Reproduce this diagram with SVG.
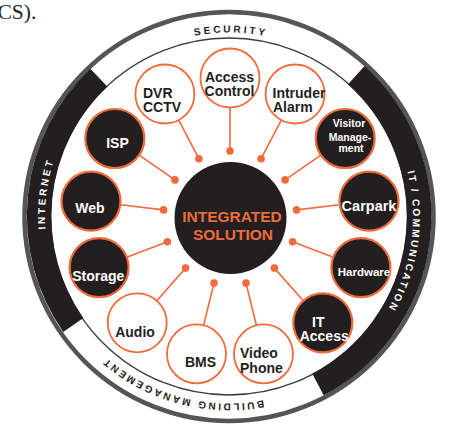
<svg xmlns="http://www.w3.org/2000/svg" width="449" height="426" viewBox="0 0 449 426">
<style>
.t{font-family:"Liberation Sans",Arial,Helvetica,sans-serif;font-weight:bold}
.nd{font-size:14px}
.dk{fill:#231f20}
.lt{fill:#ffffff}
.wc{fill:#ffffff;stroke:#ef6b3c;stroke-width:1.8}
.bc{fill:#231f20;stroke:#ef6b3c;stroke-width:2.2}
.ring{font-size:10px}
.con line{stroke:#ef6b3c;stroke-width:1.6}
.con circle{fill:#ef6b3c}
</style>
<defs>
<path id="ringPath" d="M229,400.5 A184,184 0 1 1 229,32.5 A184,184 0 1 1 229,400.5"/>
<path id="bmPath" d="M229,29.5 A187,187 0 1 1 229,403.5 A187,187 0 1 1 229,29.5"/>
</defs>
<rect width="449" height="426" fill="#ffffff"/>
<text x="-2.5" y="18.5" font-family="'Liberation Serif','Times New Roman',serif" font-size="21.5" fill="#231f20">CS).</text>

<g id="ring">
<circle cx="229" cy="216.5" r="204.5" fill="none" stroke="#555555" stroke-width="4.5"/>
<circle cx="229" cy="216.5" r="178.5" fill="none" stroke="#3a3a3a" stroke-width="1.3"/>
<!-- Internet: 144.8 to 226.8 deg -->
<path d="M73.3,324.9 A190.2,190.2 0 0 1 98.8,77.7" fill="none" stroke="#231f20" stroke-width="24.5"/>
<!-- IT: 312 to 62.1 deg -->
<path d="M356.3,75.2 A190.2,190.2 0 0 1 318.0,384.5" fill="none" stroke="#231f20" stroke-width="24.5"/>
<text class="t ring dk" letter-spacing="2.8" text-anchor="middle"><textPath href="#ringPath" startOffset="579.7">SECURITY</textPath></text>
<text class="t ring lt" letter-spacing="2.6" text-anchor="middle"><textPath href="#ringPath" startOffset="311.5">INTERNET</textPath></text>
<text class="t ring lt" letter-spacing="2.2" text-anchor="middle"><textPath href="#ringPath" startOffset="892.8">IT / COMMUNICATION</textPath></text>
<text class="t ring dk" letter-spacing="2.4" text-anchor="middle"><textPath href="#bmPath" startOffset="637.4">BUILDING MANAGEMENT</textPath></text>
</g>

<g id="connectors" class="con">
<line x1="230" y1="151" x2="230" y2="107.5"/>
<line x1="261.1" y1="158.7" x2="281.3" y2="120.2"/>
<line x1="285.1" y1="179.9" x2="320.9" y2="155.2"/>
<line x1="296.5" y1="209.9" x2="339.7" y2="204.7"/>
<line x1="292.6" y1="241.8" x2="333.3" y2="257.2"/>
<line x1="274.4" y1="268.1" x2="303.3" y2="300.7"/>
<line x1="246.0" y1="283.1" x2="256.4" y2="325.3"/>
<line x1="214.0" y1="283.1" x2="203.6" y2="325.3"/>
<line x1="185.6" y1="268.1" x2="156.7" y2="300.7"/>
<line x1="167.4" y1="241.8" x2="126.7" y2="257.2"/>
<line x1="163.5" y1="209.9" x2="120.3" y2="204.7"/>
<line x1="174.9" y1="179.9" x2="139.1" y2="155.2"/>
<line x1="198.9" y1="158.7" x2="178.7" y2="120.2"/>
<circle cx="230" cy="151" r="3.8"/>
<circle cx="261.1" cy="158.7" r="3.8"/>
<circle cx="285.1" cy="179.9" r="3.8"/>
<circle cx="296.5" cy="209.9" r="3.8"/>
<circle cx="292.6" cy="241.8" r="3.8"/>
<circle cx="274.4" cy="268.1" r="3.8"/>
<circle cx="246.0" cy="283.1" r="3.8"/>
<circle cx="214.0" cy="283.1" r="3.8"/>
<circle cx="185.6" cy="268.1" r="3.8"/>
<circle cx="167.4" cy="241.8" r="3.8"/>
<circle cx="163.5" cy="209.9" r="3.8"/>
<circle cx="174.9" cy="179.9" r="3.8"/>
<circle cx="198.9" cy="158.7" r="3.8"/>
</g>

<g id="center">
<circle cx="230.5" cy="218" r="56" fill="#231f20"/>
<text class="t" font-size="15.5" fill="#ef6b3c" text-anchor="middle" x="232" y="221.7">INTEGRATED</text>
<text class="t" font-size="15.5" fill="#ef6b3c" text-anchor="middle" x="233" y="240">SOLUTION</text>
</g>

<g id="access-control">
<circle class="wc" cx="230" cy="78" r="29.5"/>
<text class="t nd dk" text-anchor="middle" x="229.5" y="81.7">Access</text>
<text class="t nd dk" text-anchor="middle" x="229.5" y="96.2">Control</text>
</g>
<g id="intruder-alarm">
<circle class="wc" cx="295.1" cy="94" r="29.5"/>
<text class="t nd dk" x="272.5" y="98.3">Intruder</text>
<text class="t nd dk" x="273" y="111.7">Alarm</text>
</g>
<g id="visitor-management">
<circle class="bc" cx="345.2" cy="138.5" r="29.5"/>
<text class="t lt" font-size="10.5" text-anchor="middle" x="349" y="126.7">Visitor</text>
<text class="t lt" font-size="10.5" text-anchor="middle" x="350" y="140.8">Manage-</text>
<text class="t lt" font-size="10.5" text-anchor="middle" x="351" y="151.7">ment</text>
</g>
<g id="carpark">
<circle class="bc" cx="369" cy="201.1" r="29.5"/>
<text class="t lt" font-size="14.5" text-anchor="middle" x="369" y="211">Carpark</text>
</g>
<g id="hardware">
<circle class="bc" cx="360.9" cy="267.6" r="29.5"/>
<text class="t lt" font-size="11.5" text-anchor="middle" x="364" y="275.5">Hardware</text>
</g>
<g id="it-access">
<circle class="bc" cx="322.8" cy="322.8" r="29.5"/>
<text class="t nd lt" text-anchor="middle" x="318.3" y="326.5">IT</text>
<text class="t nd lt" text-anchor="middle" x="324.2" y="341">Access</text>
</g>
<g id="video-phone">
<circle class="wc" cx="263.5" cy="353.9" r="29.5"/>
<text class="t nd dk" x="240" y="358.3">Video</text>
<text class="t nd dk" x="240" y="373">Phone</text>
</g>
<g id="bms">
<circle class="wc" cx="196.5" cy="353.9" r="29.5"/>
<text class="t nd dk" text-anchor="middle" x="200.5" y="366.5">BMS</text>
</g>
<g id="audio">
<circle class="wc" cx="137.2" cy="322.8" r="29.5"/>
<text class="t nd dk" text-anchor="middle" x="135" y="336.5">Audio</text>
</g>
<g id="storage">
<circle class="bc" cx="99.1" cy="267.6" r="29.5"/>
<text class="t nd lt" text-anchor="middle" x="98.3" y="281">Storage</text>
</g>
<g id="web">
<circle class="bc" cx="91" cy="201.1" r="29.5"/>
<text class="t nd lt" text-anchor="middle" x="90" y="213">Web</text>
</g>
<g id="isp">
<circle class="bc" cx="114.8" cy="138.5" r="29.5"/>
<text class="t nd lt" text-anchor="middle" x="117.5" y="148">ISP</text>
</g>
<g id="dvr-cctv">
<circle class="wc" cx="164.9" cy="94" r="29.5"/>
<text class="t nd dk" x="143" y="98.3">DVR</text>
<text class="t nd dk" x="143" y="111.7">CCTV</text>
</g>
</svg>
